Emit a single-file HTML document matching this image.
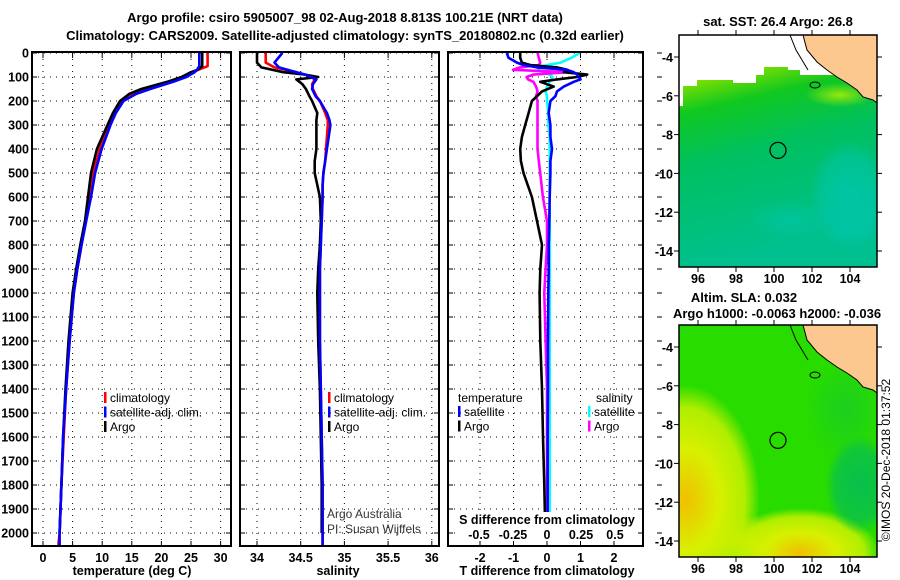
<!DOCTYPE html>
<html><head><meta charset="utf-8"><style>
html,body{margin:0;background:#fff;width:900px;height:580px;overflow:hidden;}
svg{display:block;font-family:"Liberation Sans",sans-serif;}
.t{font-size:13px;font-weight:bold;}
.tk{font-size:12.5px;font-weight:bold;}
.lg{font-size:12px;}
</style></head><body>
<svg id="c" width="900" height="580" viewBox="0 0 900 580">
<text class="t" x="345" y="22" text-anchor="middle" font-size="14">Argo profile: csiro 5905007_98 02-Aug-2018 8.813S 100.21E (NRT data)</text>
<text class="t" x="345" y="40" text-anchor="middle" font-size="14">Climatology: CARS2009. Satellite-adjusted climatology: synTS_20180802.nc (0.32d earlier)</text>
<g id="plots"></g>
<text class="lg" x="890" y="460" text-anchor="middle" transform="rotate(-90 890 460)" font-size="12">©IMOS 20-Dec-2018 01:37:52</text>
</svg>
<script>
// depth-profile data
const depthT=[0,55,70,80,100,120,150,170,200,250,300,400,500,600,700,800,900,1000,1200,1400,1600,1800,2000,2050];
const tempClim=[27.8,27.8,26.2,25.4,23.9,21.6,17.5,15.3,13.4,12.1,11.2,9.6,8.5,7.8,7.2,6.5,5.8,5.2,4.5,3.9,3.5,3.1,2.8,2.6];
const tempArgo=[26.9,26.9,26.1,25.0,23.4,21.0,16.6,14.6,13.0,11.8,10.9,9.1,8.1,7.6,7.1,6.3,5.6,5.0,4.3,3.8,3.4,3.1,2.8];
const tempSat=[26.4,26.4,26.0,25.6,24.2,22.0,18.1,15.8,13.6,12.3,11.4,9.9,8.8,8.1,7.3,6.5,5.8,5.2,4.5,3.9,3.4,3.1,2.8,2.8];
const depthS=[0,40,60,80,90,100,110,130,150,180,200,250,280,300,350,400,450,500,550,600,700,800,900,1000,1200,1400,1600,1800,2000,2050];
const salArgo=[34.0,34.0,34.05,34.3,34.55,34.7,34.45,34.52,34.56,34.6,34.63,34.69,34.68,34.68,34.68,34.68,34.66,34.66,34.69,34.72,34.73,34.72,34.70,34.69,34.70,34.72,34.73,34.74,34.74];
const salClim=[34.1,34.1,34.2,34.45,34.55,34.62,34.66,34.63,34.64,34.68,34.72,34.78,34.81,34.81,34.8,34.79,34.78,34.76,34.75,34.75,34.74,34.73,34.72,34.72,34.72,34.73,34.74,34.75,34.75,34.75];
const salSat=[34.29,34.2,34.25,34.45,34.55,34.62,34.68,34.64,34.63,34.67,34.72,34.8,34.83,34.84,34.82,34.8,34.78,34.76,34.75,34.75,34.74,34.73,34.72,34.72,34.72,34.73,34.74,34.75,34.75,34.75];
const depthD=[0,20,40,50,60,70,80,90,100,110,120,140,160,180,200,250,300,350,400,450,500,600,700,800,900,1000,1200,1400,1600,1800,2000];
const dTSat=[-1.2,-1.15,-0.9,-0.7,-0.3,0.6,0.8,0.9,0.95,1.0,0.8,0.5,0.3,0.25,0.1,0.05,0.1,0.1,0.15,0.1,0.1,0.08,0.07,0.05,0.05,0.04,0.03,0.03,0.02,0.02,0.02];
const dTArgo=[-0.8,-0.8,-0.75,-0.5,0.3,0.6,0.5,1.2,0.9,0.3,-0.2,0.2,-0.15,-0.3,-0.45,-0.55,-0.65,-0.75,-0.8,-0.78,-0.7,-0.45,-0.3,-0.15,-0.2,-0.22,-0.2,-0.15,-0.12,-0.08,-0.05];
const dSArgo=[-0.07,-0.06,-0.05,-0.06,-0.2,-0.25,0.15,-0.1,-0.15,-0.14,-0.1,-0.08,-0.07,-0.08,-0.07,-0.07,-0.07,-0.07,-0.07,-0.06,-0.05,-0.03,0.0,0.0,-0.01,-0.02,-0.01,0.0,0.0,0.0,0.0];
const dSSat=[0.24,0.18,0.1,0.0,-0.07,-0.06,-0.03,0.02,0.04,0.03,0.02,0.0,-0.01,0.0,0.0,0.01,0.01,0.02,0.02,0.02,0.02,0.02,0.02,0.02,0.02,0.02,0.02,0.02,0.02,0.02,0.02];
const depthTicks=[0,100,200,300,400,500,600,700,800,900,1000,1100,1200,1300,1400,1500,1600,1700,1800,1900,2000];
const tempTicks=[0,5,10,15,20,25,30];
const salTicks=[34,34.5,35,35.5,36];
const dTTicks=[-2,-1,0,1,2];
const dSTicks=[-0.5,-0.25,0,0.25,0.5];
const dSTickLabels=["-0.5","-0.25","0","0.25","0.5"];
const lonTicks=[96,98,100,102,104];
const latTicks=[-4,-6,-8,-10,-12,-14];
const floatLon=100.21, floatLat=-8.813;

const NS='http://www.w3.org/2000/svg';
const root=document.getElementById('plots');
function mk(tag,attrs,parent,text){const e=document.createElementNS(NS,tag);for(const k in attrs)e.setAttribute(k,attrs[k]);if(text!==undefined)e.textContent=text;(parent||root).appendChild(e);return e;}
const Y0=53,PB=546;
const yD=d=>Y0+d*0.24;
const xT=v=>43+v*5.92;
const xS=v=>257+(v-34)*87.4;
const xDT=v=>547+v*33.5;
const xDS=v=>547+v*136;

function panel(name){
  const g=mk('g',{});
  
  
  return g;
}
function frame(g,L,R){
  const f=mk('rect',{x:L,y:Y0-1,width:R-L,height:PB-Y0+1,fill:'none',stroke:'#000','stroke-width':2},g);
  
}
function hgrid(g,L,R){
  depthTicks.forEach(d=>{
    const l=mk('line',{x1:L,x2:R,y1:yD(d),y2:yD(d),stroke:'#000','stroke-dasharray':'1 5'},g);
    
    mk('line',{x1:L,x2:L+5,y1:yD(d),y2:yD(d),stroke:'#000'},g);
    mk('line',{x1:R-5,x2:R,y1:yD(d),y2:yD(d),stroke:'#000'},g);
  });
}
function vgrid(g,ticks,fx,labels,ly){
  ticks.forEach((t,i)=>{
    const x=fx(t);
    const l=mk('line',{x1:x,x2:x,y1:Y0,y2:PB,stroke:'#000','stroke-dasharray':'1 5'},g);
    
    mk('line',{x1:x,x2:x,y1:PB-5,y2:PB,stroke:'#000'},g);
    mk('line',{x1:x,x2:x,y1:Y0,y2:Y0+5,stroke:'#000'},g);
    if(labels){const tx=mk('text',{x:x,y:ly,'text-anchor':'middle',class:'tk'},g,labels[i]);
      }
  });
}
function series(g,depths,vals,fx,color,name){
  const pts=vals.map((v,i)=>fx(v).toFixed(1)+','+yD(depths[i]).toFixed(1)).join(' ');
  const p=mk('polyline',{points:pts,fill:'none',stroke:color,'stroke-width':2.6,'stroke-linejoin':'round'},g);
  
}
function legend(g,x,y,items){
  items.forEach((it,i)=>{
    mk('rect',{x:x,y:y+i*14.5-10,width:2.5,height:11,fill:it[1]},g);
    const t=mk('text',{x:x+6,y:y+i*14.5,class:'lg'},g,it[0]);
    
  });
}

depthTicks.forEach(d=>{const t=mk('text',{x:29,y:yD(d)+4.5,'text-anchor':'end',class:'tk'},root,String(d));
  });

let g=panel('temperature-panel');
hgrid(g,32,231);vgrid(g,tempTicks,xT,tempTicks.map(String),562);
series(g,depthT,tempClim,xT,'#f00','temp-climatology-line');
series(g,depthT.slice(0,tempArgo.length),tempArgo,xT,'#000','temp-argo-line');
series(g,depthT,tempSat,xT,'#00f','temp-satellite-line');
frame(g,32,231);
legend(g,104,402,[['climatology','#f00'],['satellite-adj. clim.','#00f'],['Argo','#000']]);
let lb=mk('text',{x:132,y:575,'text-anchor':'middle',class:'tk'},g,'temperature (deg C)');


g=panel('salinity-panel');
hgrid(g,240,439);vgrid(g,salTicks,xS,salTicks.map(String),562);
series(g,depthS,salClim,xS,'#f00','sal-climatology-line');
series(g,depthS.slice(0,salArgo.length),salArgo,xS,'#000','sal-argo-line');
series(g,depthS,salSat,xS,'#00f','sal-satellite-line');
frame(g,240,439);
legend(g,328,402,[['climatology','#f00'],['satellite-adj. clim.','#00f'],['Argo','#000']]);
lb=mk('text',{x:338,y:575,'text-anchor':'middle',class:'tk'},g,'salinity');

let c1=mk('text',{x:327,y:518,class:'lg',fill:'#333'},g,'Argo Australia');

let c2=mk('text',{x:327,y:533,class:'lg',fill:'#333'},g,'PI: Susan Wijffels');


g=panel('difference-panel');
hgrid(g,448,643);vgrid(g,dTTicks,xDT,dTTicks.map(String),562);
series(g,depthD,dSSat,xDS,'#0ff','s-diff-satellite-line');
series(g,depthD,dSArgo,xDS,'#f0f','s-diff-argo-line');
series(g,depthD,dTArgo,xDT,'#000','t-diff-argo-line');
series(g,depthD,dTSat,xDT,'#00f','t-diff-satellite-line');
frame(g,448,643);
depthTicks.forEach(d=>mk('line',{x1:657,x2:662,y1:yD(d),y2:yD(d),stroke:'#000'},g));
mk('rect',{x:456,y:512,width:180,height:28,fill:'#fff'},g);
let st=mk('text',{x:547,y:524,'text-anchor':'middle',class:'tk'},g,'S difference from climatology');

dSTicks.forEach((t,i)=>{const tx=mk('text',{x:xDS(t),y:539,'text-anchor':'middle',class:'tk'},g,dSTickLabels[i]);
  });
lb=mk('text',{x:547,y:575,'text-anchor':'middle',class:'tk'},g,'T difference from climatology');

mk('text',{x:458,y:402,class:'lg'},g,'temperature');
mk('text',{x:596,y:402,class:'lg'},g,'salinity');
legend(g,458,416,[['satellite','#00f'],['Argo','#000']]);
legend(g,588,416,[['satellite','#0ff'],['Argo','#f0f']]);

const mapL=679,mapR=877,MW=198,MH=232;
const xLon=lon=>698+(lon-96)*19;
let gid=0;
function blob(defs,inner,top,cx,cy,rx,ry,stops){
  const id='rg'+(gid++);
  const rg=mk('radialGradient',{id:id,gradientUnits:'userSpaceOnUse',cx:cx,cy:cy,r:rx,gradientTransform:`translate(${cx} ${cy}) scale(1 ${ry/rx}) translate(${-cx} ${-cy})`},defs);
  stops.forEach(s=>mk('stop',{offset:s[0],'stop-color':s[1],'stop-opacity':s[2]},rg));
  mk('rect',{x:mapL,y:top,width:MW,height:MH,fill:'url(#'+id+')'},inner);
}
function drawMap(top,name,kind){
  const mg=mk('g',{});
  
  const yLat=lat=>top+22+(-4-lat)*19.4;
  const defs=mk('defs',{},mg);
  const inner=mk('g',{},mg);
  if(kind==='sst'){
    const lg=mk('linearGradient',{id:'sstg',x1:0,y1:0,x2:0.2,y2:1},defs);
    [['0','#d0f000'],['0.2','#80e000'],['0.33','#10c820'],['0.55','#00c060'],['1','#00c090']].forEach(s=>mk('stop',{offset:s[0],'stop-color':s[1]},lg));
    mk('rect',{x:mapL,y:top,width:MW,height:MH,fill:'url(#sstg)'},inner);
    blob(defs,inner,top,850,top+160,40,55,[['0','#00c8c0',0.6],['0.7','#00c8c0',0.4],['1','#00c8c0',0]]);
    blob(defs,inner,top,790,top+185,45,20,[['0','#00c8b8',0.5],['1','#00c8b8',0]]);
    blob(defs,inner,top,840,top+60,35,12,[['0','#b8f000',0.8],['1','#b8f000',0]]);
    const pts=[[mapL,top+71],[683,top+71],[683,top+51],[697,top+51],[697,top+45],[733,top+45],[733,top+48],[756,top+48],[756,top+40],[764,top+40],[764,top+32],[788,top+32],[788,top+35],[800,top+35],[800,top+40],[mapR,top+40],[mapR,top],[mapL,top]];
    mk('polygon',{points:pts.map(p=>p.join(',')).join(' '),fill:'#fff'},inner);
  } else {
    mk('rect',{x:mapL,y:top,width:MW,height:MH,fill:'#28dc00'},inner);
    const ys=[['0','#f0c000',1],['0.45','#d8f000',1],['0.8','#b0ee00',1],['1','#b0ee00',0]];
    blob(defs,inner,top,685,top+175,75,115,ys);
    blob(defs,inner,top,800,top+228,80,45,ys);
    blob(defs,inner,top,740,top+215,50,25,[['0','#d0f000',0.7],['1','#d0f000',0]]);
    blob(defs,inner,top,860,top+160,35,50,[['0','#00b860',0.8],['0.7','#00b860',0.6],['1','#00b860',0]]);
    blob(defs,inner,top,845,top+85,40,50,[['0','#10c040',0.5],['1','#10c040',0]]);
  }
  const land=[[803,top],[807,top+15],[817,top+27],[827,top+35],[837,top+42],[847,top+48],[857,top+55],[863,top+62],[873,top+65],[877,top+68],[877,top]];
  const ld=mk('polygon',{points:land.map(p=>p.join(',')).join(' '),fill:'#fcc890',stroke:'#000','stroke-width':1},inner);
  
  mk('polyline',{points:`790,${top} 796,${top+15} 802,${top+25} 808,${top+35}`,fill:'none',stroke:'#000'},inner);
  mk('ellipse',{cx:815,cy:top+50,rx:5,ry:3,fill:'none',stroke:'#000'},inner);
  const ci=mk('circle',{cx:xLon(floatLon),cy:yLat(floatLat),r:8,fill:'none',stroke:'#000','stroke-width':1.2},mg);
  
  mk('rect',{x:mapL,y:top,width:MW,height:MH,fill:'none',stroke:'#000','stroke-width':1.5},mg);
  lonTicks.forEach(l=>{const x=xLon(l);mk('line',{x1:x,x2:x,y1:top-5,y2:top,stroke:'#000'},mg);mk('line',{x1:x,x2:x,y1:top+MH,y2:top+MH+5,stroke:'#000'},mg);
    const t=mk('text',{x:x,y:top+248,'text-anchor':'middle',class:'tk'},mg,String(l));
    });
  latTicks.forEach(l=>{const y=yLat(l);mk('line',{x1:mapL-5,x2:mapL,y1:y,y2:y,stroke:'#000'},mg);mk('line',{x1:mapR,x2:mapR+5,y1:y,y2:y,stroke:'#000'},mg);
    const t=mk('text',{x:673,y:y+5,'text-anchor':'end',class:'tk'},mg,String(l));
    });
}
drawMap(35,'sst-map','sst');
drawMap(325,'sla-map','sla');
let m1=mk('text',{x:778,y:26,'text-anchor':'middle',class:'t'},root,'sat. SST: 26.4 Argo: 26.8');

let m2=mk('text',{x:744,y:302,'text-anchor':'middle',class:'t'},root,'Altim. SLA: 0.032');

let m3=mk('text',{x:777,y:318,'text-anchor':'middle',class:'t'},root,'Argo h1000: -0.0063 h2000: -0.036');

</script>
</body></html>
